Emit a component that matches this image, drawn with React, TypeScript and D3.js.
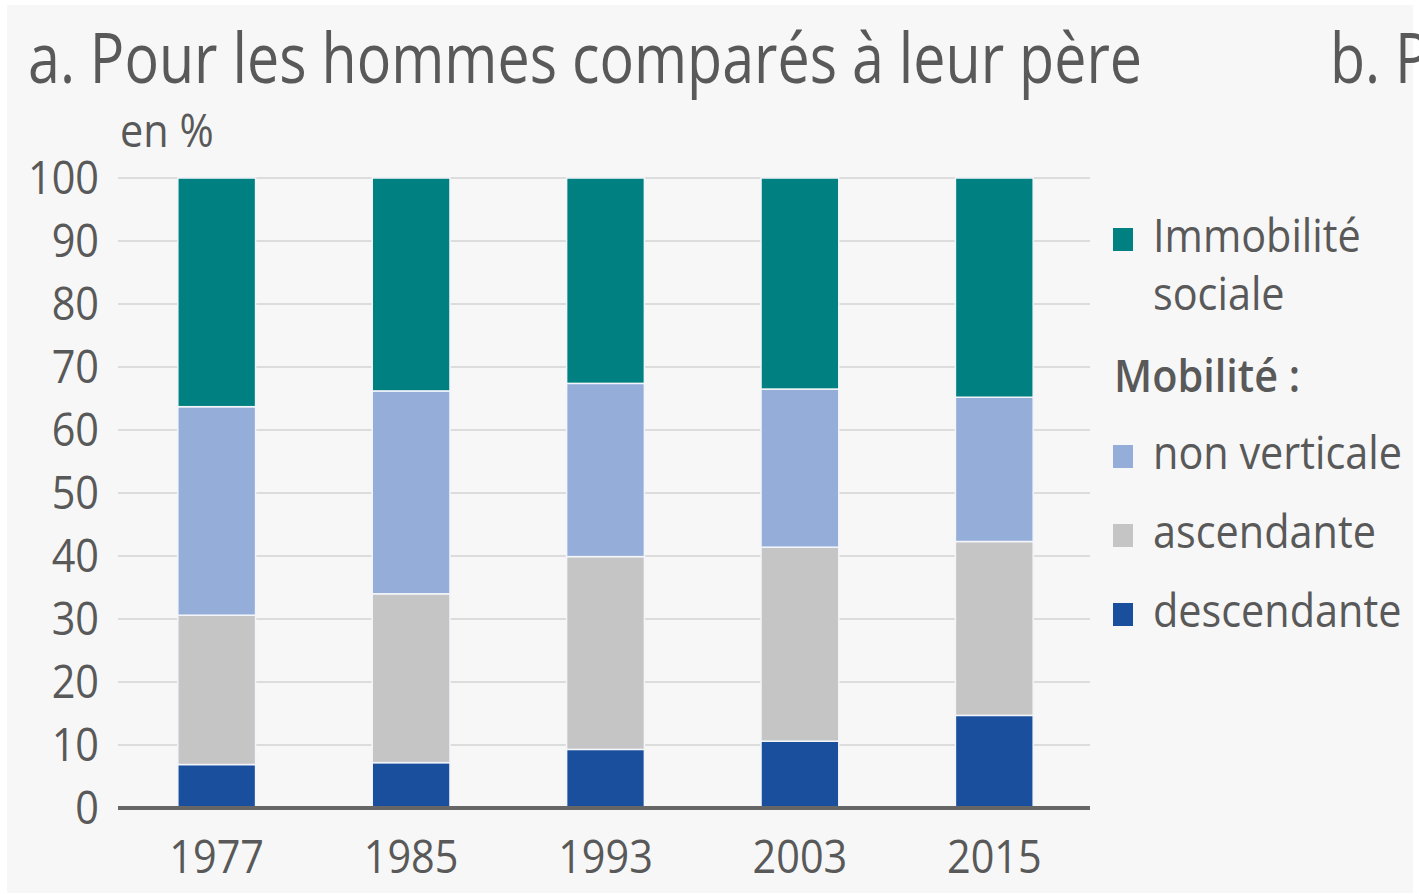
import React, { useRef, useEffect } from "react";
import * as d3 from "d3";

// Years on the x axis
const years = ["1977", "1985", "1993", "2003", "2015"];

// Shares in %, stacked bottom to top
const descendante = [6.9, 7.2, 9.3, 10.6, 14.7];
const ascendante = [23.7, 26.8, 30.6, 30.8, 27.6];
const nonVerticale = [33.1, 32.2, 27.5, 25.1, 22.9];
const immobilite = [36.3, 33.8, 32.6, 33.5, 34.8];

const yTicks = [0, 10, 20, 30, 40, 50, 60, 70, 80, 90, 100];

const seriesKeys = ["descendante", "ascendante", "nonVerticale", "immobilite"];
const seriesColors: Record<string, string> = {
  descendante: "#1a4f9e",
  ascendante: "#c5c5c5",
  nonVerticale: "#95aed9",
  immobilite: "#008080",
};

const TEXT = "#595959";
const FONT = "'Open Sans', 'Noto Sans', sans-serif";
const SX_TITLE = 0.82; // the source text is horizontally squeezed
const SX = 0.9;

export default function App() {
  const svgRef = useRef<SVGSVGElement | null>(null);

  useEffect(() => {
    const width = 1419;
    const height = 894;
    const margin = { top: 178, right: 329, bottom: 86, left: 118 };
    const innerWidth = width - margin.left - margin.right;
    const innerHeight = height - margin.top - margin.bottom;

    const svg = d3.select(svgRef.current);
    svg.selectAll("*").remove();
    svg.attr("width", width).attr("height", height);

    // light gray panel background
    svg.append("rect")
      .attr("x", 7)
      .attr("y", 5)
      .attr("width", 1406)
      .attr("height", 888)
      .attr("fill", "#f7f7f7");

    const label = (
      parent: d3.Selection<any, unknown, null, undefined>,
      x: number,
      y: number,
      txt: string,
      size: number,
      anchor = "start",
      weight = 400,
      sx = SX
    ) =>
      parent.append("text")
        .attr("transform", `translate(${x},${y}) scale(${sx},1)`)
        .attr("text-anchor", anchor)
        .attr("font-family", FONT)
        .attr("font-size", size)
        .attr("font-weight", weight)
        .attr("fill", TEXT)
        .text(txt);

    // titles (panel b is cut by the right edge, as in the source)
    label(svg, 28, 83, "a. Pour les hommes comparés à leur père", 70, "start", 400, SX_TITLE);
    label(svg, 1330, 83, "b. Pour les femmes comparées à leur mère", 70, "start", 400, SX_TITLE);
    label(svg, 120, 147, "en %", 46);

    const g = svg.append("g")
      .attr("transform", `translate(${margin.left},${margin.top})`);

    const x = d3.scaleBand()
      .domain(years)
      .range([1.5, innerWidth + 1.5])
      .paddingInner(0.6)
      .paddingOuter(0.3);

    const y = d3.scaleLinear().domain([0, 100]).range([innerHeight, 0]);

    // grid lines
    g.append("g")
      .selectAll("line")
      .data(yTicks.filter(d => d > 0))
      .enter()
      .append("line")
      .attr("x1", 0)
      .attr("x2", innerWidth)
      .attr("y1", d => y(d))
      .attr("y2", d => y(d))
      .attr("stroke", "#dcdcdc")
      .attr("stroke-width", 2);

    // y tick labels
    yTicks.forEach(t => {
      label(g, -19, y(t) + 16, String(t), 46, "end");
    });

    // stacked bars
    const rows = years.map((yr, i) => ({
      year: yr,
      descendante: descendante[i],
      ascendante: ascendante[i],
      nonVerticale: nonVerticale[i],
      immobilite: immobilite[i],
    }));
    const stack = d3.stack<any>().keys(seriesKeys)(rows);

    g.append("g")
      .selectAll("g")
      .data(stack)
      .enter()
      .append("g")
      .attr("fill", d => seriesColors[d.key])
      .selectAll("rect")
      .data(d => d)
      .enter()
      .append("rect")
      .attr("x", d => x(d.data.year) as number)
      .attr("width", x.bandwidth())
      .attr("y", d => y(d[1]))
      .attr("height", d => y(d[0]) - y(d[1]))
      .attr("stroke", "#f3f5fa")
      .attr("stroke-width", 1.5);

    // baseline
    g.append("line")
      .attr("x1", 0)
      .attr("x2", innerWidth)
      .attr("y1", y(0))
      .attr("y2", y(0))
      .attr("stroke", "#666")
      .attr("stroke-width", 4);

    // x tick labels
    years.forEach(yr => {
      label(g, (x(yr) as number) + x.bandwidth() / 2, innerHeight + 65, yr, 46, "middle");
    });

    // legend
    const lg = svg.append("g");
    const legendItems = [
      { key: "immobilite", lines: ["Immobilité", "sociale"], y: 252 },
      { key: "nonVerticale", lines: ["non verticale"], y: 469 },
      { key: "ascendante", lines: ["ascendante"], y: 548 },
      { key: "descendante", lines: ["descendante"], y: 627 },
    ];
    legendItems.forEach(item => {
      lg.append("rect")
        .attr("x", 1113)
        .attr("y", item.y - 24)
        .attr("width", 20)
        .attr("height", 23)
        .attr("fill", seriesColors[item.key]);
      item.lines.forEach((ln, j) => {
        label(lg, 1153, item.y + j * 58, ln, 46);
      });
    });
    label(lg, 1114, 392, "Mobilité :", 46, "start", 600);
  }, []);

  return (
    <div style={{ position: "absolute", left: 0, top: 0 }}>
      <svg ref={svgRef}></svg>
    </div>
  );
}
